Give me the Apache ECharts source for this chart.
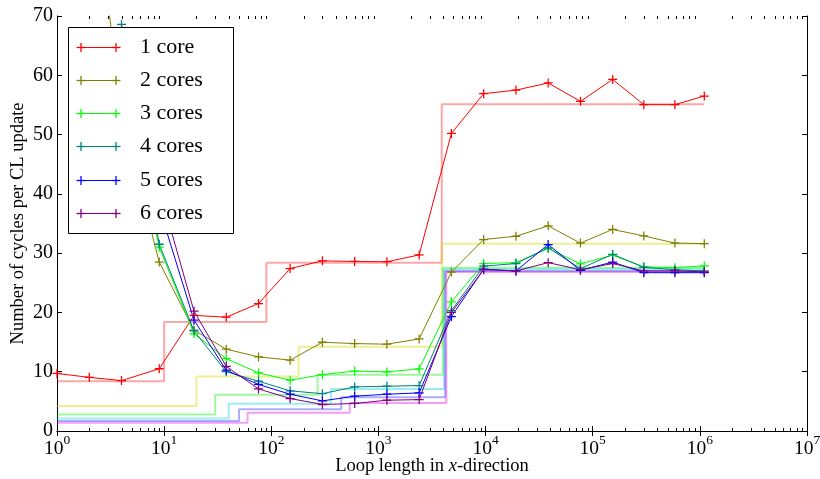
<!DOCTYPE html>
<html>
<head>
<meta charset="utf-8">
<script src="https://cdn.jsdelivr.net/npm/echarts@6/dist/echarts.min.js"></script>
<style>
  html, body { margin: 0; padding: 0; background: #ffffff; }
  #chart { width: 820px; height: 479px; }
</style>
</head>
<body>
<div id="chart"></div>
<script>
// Loop lengths (x) shared by all measured curves
const loopLengths = [1, 2, 4, 9, 19, 38, 76, 150, 300, 600, 1200, 2400, 4800, 9600,
                     19200, 38400, 76800, 153600, 300000, 585000, 1100000];

const seriesNames = ['1 core', '2 cores', '3 cores', '4 cores', '5 cores', '6 cores'];
const lineColors  = ['#ff0000', '#808000', '#00ff00', '#008080', '#0000ff', '#800080'];
const idealColors = ['rgba(255,0,0,0.35)', 'rgba(215,215,0,0.42)', 'rgba(0,235,0,0.38)',
                     'rgba(0,215,215,0.4)', 'rgba(40,40,255,0.38)', 'rgba(225,0,225,0.38)'];

// Index into loopLengths where each curve starts
const firstPoint = [0, 1, 2, 2, 3, 3];

// Measured cycles per CL update
const cycles1 = [9.7, 9.05, 8.5, 10.5, 19.5, 19.2, 21.5, 27.4, 28.7, 28.6, 28.55, 29.7,
                 50.2, 56.9, 57.5, 58.7, 55.6, 59.3, 55.05, 55.05, 56.5];
const cycles2 = [99, 53, 28.5, 17.0, 13.8, 12.5, 11.95, 14.97, 14.75, 14.64, 15.53,
                 26.8, 32.3, 32.85, 34.6, 31.7, 34.0, 32.9, 31.7, 31.6];
const cycles3 = [60, 31.0, 16.4, 12.2, 9.8, 8.57, 9.5, 10.1, 9.97, 10.47,
                 21.8, 28.25, 28.4, 30.8, 28.2, 29.65, 27.7, 27.55, 27.85];
const cycles4 = [68.6, 31.5, 16.9, 10.0, 8.4, 6.77, 6.3, 7.44, 7.55, 7.67,
                 20.3, 27.8, 28.25, 30.9, 27.4, 29.8, 27.6, 27.2, 27.0];
const cycles5 = [37.7, 18.7, 10.25, 7.85, 6.2, 5.08, 5.87, 6.2, 6.43,
                 19.3, 27.3, 27.0, 31.45, 27.1, 28.5, 26.7, 26.7, 26.7];
const cycles6 = [40.9, 20.2, 10.9, 7.1, 5.48, 4.47, 4.64, 5.19, 5.3,
                 20.0, 27.2, 27.0, 28.4, 27.2, 28.25, 27.0, 27.0, 26.85];
const measured = [cycles1, cycles2, cycles3, cycles4, cycles5, cycles6];

// Model prediction: loop lengths where the level changes, and the levels
const idealBreaks1 = [1, 10, 90, 3900, 1100000];
const idealBreaks2 = [1, 20, 180, 3900, 1100000];
const idealBreaks3 = [1, 30, 270, 4000, 1100000];
const idealBreaks4 = [1, 40, 360, 4100, 1100000];
const idealBreaks5 = [1, 50, 450, 4200, 1100000];
const idealBreaks6 = [1, 60, 540, 4300, 1100000];
const idealLevels1 = [8.4, 18.4, 28.4, 55.1];
const idealLevels2 = [4.2, 9.2, 14.2, 31.6];
const idealLevels3 = [2.8, 6.13, 9.47, 27.55];
const idealLevels4 = [2.1, 4.6, 7.1, 27.3];
const idealLevels5 = [1.68, 3.68, 5.68, 27.0];
const idealLevels6 = [1.4, 3.07, 4.73, 26.8];
const idealBreaks = [idealBreaks1, idealBreaks2, idealBreaks3, idealBreaks4, idealBreaks5, idealBreaks6];
const idealLevels = [idealLevels1, idealLevels2, idealLevels3, idealLevels4, idealLevels5, idealLevels6];

const yTicks = { min: 0, max: 70, interval: 10 };
const serif = '"Liberation Serif", "DejaVu Serif", serif';

// '+' marker built from two thin bars
const plusSymbol = 'path://M0,4.3H10V5.7H0Z M4.3,0H5.7V10H4.3Z';

const series = [];
idealBreaks.forEach((breaks, k) => {
  const levels = idealLevels[k];
  series.push({
    name: 'ideal ' + seriesNames[k],
    type: 'line',
    step: 'end',
    data: breaks.map((b, i) => [b, levels[Math.min(i, levels.length - 1)]]),
    showSymbol: false,
    silent: true,
    z: 1,
    lineStyle: { color: idealColors[k], width: 2 },
    animation: false
  });
});
measured.forEach((vals, k) => {
  series.push({
    name: seriesNames[k],
    type: 'line',
    data: vals.map((v, i) => [loopLengths[firstPoint[k] + i], v]),
    symbol: plusSymbol,
    symbolSize: 9,
    showSymbol: true,
    z: 2,
    lineStyle: { color: lineColors[k], width: 1 },
    itemStyle: { color: lineColors[k], borderWidth: 0 },
    animation: false
  });
});

const grid = { left: 57, top: 16, right: 13, bottom: 48, containLabel: false, outerBoundsMode: 'none' };

const chart = echarts.init(document.getElementById('chart'), null, { renderer: 'canvas' });

const logAxisBase = {
  type: 'log', logBase: 10, min: 1, max: 1e7, splitNumber: 7,
  axisLine: { show: true, lineStyle: { color: '#000', width: 1 } },
  axisTick: { show: true, inside: true, length: 5, lineStyle: { color: '#000' } },
  splitLine: { show: false }
};
const valueAxisBase = {
  type: 'value', min: yTicks.min, max: yTicks.max, interval: yTicks.interval,
  axisLine: { show: true, lineStyle: { color: '#000', width: 1 } },
  axisTick: { show: true, inside: true, length: 5, lineStyle: { color: '#000' } },
  splitLine: { show: false }
};

chart.setOption({
  backgroundColor: '#ffffff',
  animation: false,
  grid: grid,
  xAxis: [
    Object.assign({}, logAxisBase, {
      position: 'bottom',
      name: 'Loop length in {i|x}-direction',
      nameLocation: 'middle',
      nameGap: 26,
      nameMoveOverlap: false,
      nameTextStyle: {
        fontFamily: serif, fontSize: 18.5, color: '#000',
        rich: { i: { fontFamily: serif, fontSize: 18.5, fontStyle: 'italic', color: '#000' } }
      },
      axisLabel: {
        margin: 2,
        hideOverlap: false,
        formatter: v => '{b|10}{s|' + Math.round(Math.log10(v)) + '}',
        rich: {
          b: { fontFamily: serif, fontSize: 19.5, color: '#000', verticalAlign: 'bottom', lineHeight: 26 },
          s: { fontFamily: serif, fontSize: 13.5, color: '#000', verticalAlign: 'top', lineHeight: 13 }
        }
      }
    }),
    Object.assign({}, logAxisBase, { position: 'top', axisLabel: { show: false } })
  ],
  yAxis: [
    Object.assign({}, valueAxisBase, {
      position: 'left',
      name: 'Number of cycles per CL update',
      nameLocation: 'middle',
      nameGap: 29,
      nameMoveOverlap: false,
      nameTextStyle: { fontFamily: serif, fontSize: 18.5, color: '#000' },
      axisLabel: { fontFamily: serif, fontSize: 20, color: '#000', margin: 4 }
    }),
    Object.assign({}, valueAxisBase, { position: 'right', axisLabel: { show: false } })
  ],
  series: series
});

// Minor decade ticks (2..9 in each decade) on bottom and top edges, plus the legend box
const graphics = [];
const yBottom = chart.convertToPixel({ yAxisIndex: 0 }, yTicks.min);
const yTop = chart.convertToPixel({ yAxisIndex: 0 }, yTicks.max);
for (let d = 0; d < 7; d++) {
  for (let m = 2; m <= 9; m++) {
    const px = Math.round(chart.convertToPixel({ xAxisIndex: 0 }, m * Math.pow(10, d))) + 0.5;
    graphics.push({ type: 'line', silent: true, z: 50,
      shape: { x1: px, y1: yBottom, x2: px, y2: yBottom - 3 },
      style: { stroke: '#000', lineWidth: 1 } });
    graphics.push({ type: 'line', silent: true, z: 50,
      shape: { x1: px, y1: yTop, x2: px, y2: yTop + 3 },
      style: { stroke: '#000', lineWidth: 1 } });
  }
}

const legendBox = { x: 68.5, y: 27.5, w: 165, h: 206 };
graphics.push({ type: 'rect', z: 100, silent: true,
  shape: { x: legendBox.x, y: legendBox.y, width: legendBox.w, height: legendBox.h },
  style: { fill: '#ffffff', stroke: '#000', lineWidth: 1 } });
seriesNames.forEach((name, i) => {
  const yy = Math.round(46.7 + 33.2 * i) + 0.5;
  const c = lineColors[i];
  graphics.push({ type: 'line', z: 101, silent: true,
    shape: { x1: 81, y1: yy, x2: 116, y2: yy }, style: { stroke: c, lineWidth: 1 } });
  [81, 116].forEach(cx => {
    graphics.push({ type: 'line', z: 101, silent: true,
      shape: { x1: cx - 4.5, y1: yy, x2: cx + 4.5, y2: yy }, style: { stroke: c, lineWidth: 1.3 } });
    graphics.push({ type: 'line', z: 101, silent: true,
      shape: { x1: cx, y1: yy - 4.5, x2: cx, y2: yy + 4.5 }, style: { stroke: c, lineWidth: 1.3 } });
  });
  graphics.push({ type: 'text', z: 101, silent: true, x: 140, y: yy,
    style: { text: name, fontFamily: serif, fontSize: 22, fill: '#000',
             align: 'left', verticalAlign: 'middle' } });
});

chart.setOption({ graphic: graphics });
</script>
</body>
</html>
